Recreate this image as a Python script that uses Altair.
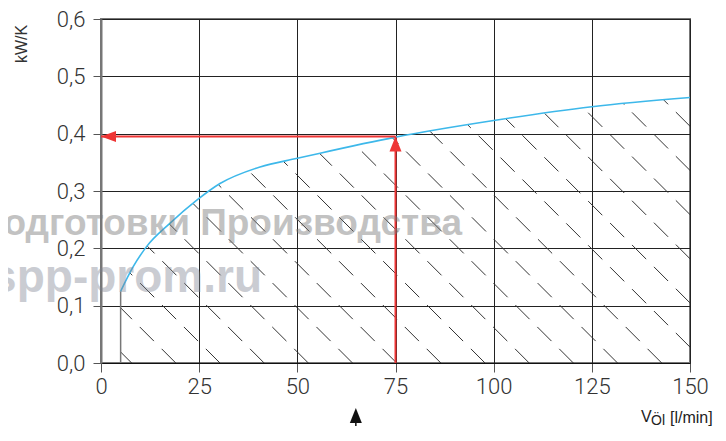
import altair as alt
import pandas as pd
import numpy as np

# ---- data ----
curve_x = [5, 8.2, 11.6, 17.6, 24.4, 30.3, 40.5, 50, 55.8, 75, 100, 125, 150]
curve_y = [0.125, 0.168, 0.203, 0.244, 0.284, 0.313, 0.342, 0.357, 0.366, 0.394, 0.423, 0.447, 0.463]

x_ticks = [0, 25, 50, 75, 100, 125, 150]
y_ticks = [0.0, 0.1, 0.2, 0.3, 0.4, 0.5, 0.6]

read_x = [75]          # flow rate read-off
read_y = [0.395]       # resulting kW/K
marker_x = [64.9]      # dashed marker below the axis

hatch_first = 7.8      # first hatch line foot (l/min)
hatch_step = 11.25     # spacing of hatch lines (l/min)

W, H = 589, 344
XMAX, YMAX = 150, 0.6
RED = "#ee3535"

# ---- hatch lines (45 deg in screen space), clipped below the curve ----
k = (H / YMAX) / (W / XMAX)
hx, hy, hx2, hy2 = [], [], [], []
xmin = curve_x[0]
c = hatch_first
while c < XMAX + k * curve_y[-1]:
    if c <= XMAX:
        lx, ly = c, 0.0
    else:
        lx, ly = XMAX, (c - XMAX) / k
    if ly < curve_y[-1]:
        xs = np.linspace(xmin, min(c, XMAX), 3000)
        g = np.interp(xs, curve_x, curve_y) - (c - xs) / k
        if g[0] >= 0:
            ux = xmin
        else:
            idx = np.argmax(g >= 0)
            ux = xs[idx] if g[idx] >= 0 else xs[-1]
        uy = (c - ux) / k
        hx.append(lx); hy.append(ly); hx2.append(ux); hy2.append(uy)
    c += hatch_step

hatch_df = pd.DataFrame({"x": hx, "y": hy, "x2": hx2, "y2": hy2})
curve_df = pd.DataFrame({"x": curve_x, "y": curve_y})
edge_df = pd.DataFrame({"x": [curve_x[0]], "y": [0.0], "y2": [curve_y[0]]})

label_font = "Roboto"

x_scale = alt.Scale(domain=[0, XMAX], nice=False, zero=False)
y_scale = alt.Scale(domain=[0, YMAX], nice=False, zero=False)

x_axis = alt.Axis(values=x_ticks, title=None, grid=True, gridColor="#222", gridWidth=1,
                  domainColor="#111", domainWidth=1, tickColor="#555", tickSize=9,
                  labelFont=label_font, labelFontWeight=300, labelFontSize=22,
                  labelColor="#333", labelPadding=4, labelFlush=False)
y_axis = alt.Axis(values=y_ticks, title=None, grid=True, gridColor="#222", gridWidth=1,
                  domainColor="#777", domainWidth=2, tickColor="#555", tickSize=8,
                  labelFont=label_font, labelFontWeight=300, labelFontSize=22,
                  labelColor="#333", labelPadding=8, labelFlush=False,
                  labelExpr="replace(format(datum.value, '.1f'), '.', ',')")

X = alt.X("x:Q", scale=x_scale, axis=x_axis)
Y = alt.Y("y:Q", scale=y_scale, axis=y_axis)

hatch = alt.Chart(hatch_df).mark_rule(color="#333", strokeWidth=1, strokeDash=[20, 11]).encode(
    x=X, y=Y, x2="x2:Q", y2="y2:Q")

edge = alt.Chart(edge_df).mark_rule(color="#777", strokeWidth=1.5).encode(
    x=X, y=Y, y2="y2:Q")

curve = alt.Chart(curve_df).mark_line(color="#3db8ea", strokeWidth=1.6, interpolate="monotone").encode(
    x=X, y=Y)

red_df = pd.DataFrame({"x": read_x, "y": read_y, "x0": [0], "y0": [0]})
red_v = alt.Chart(red_df).mark_rule(color=RED, strokeWidth=2).encode(x=X, y="y0:Q", y2="y:Q")
red_h = alt.Chart(red_df).mark_rule(color=RED, strokeWidth=2).encode(x="x0:Q", x2="x:Q", y=Y)

up_shape = "M0,0 L0.4,1 L-0.4,1 Z"
left_shape = "M0,0 L1,-0.37 L1,0.37 Z"
red_up = alt.Chart(red_df).mark_point(shape=up_shape, filled=True, color=RED, size=900,
                                       opacity=1, strokeWidth=0).encode(x=X, y=Y)
red_left = alt.Chart(red_df).mark_point(shape=left_shape, filled=True, color=RED, size=900,
                                         opacity=1, strokeWidth=0).encode(x="x0:Q", y=Y)

mk_df = pd.DataFrame({"x": marker_x, "y": [-0.0785], "ys": [-0.103], "ye": [-0.14]})
mk_head = alt.Chart(mk_df).mark_point(shape=up_shape, filled=True, color="#111", size=900,
                                       opacity=1, strokeWidth=0).encode(x=X, y=Y)
mk_stem = alt.Chart(mk_df).mark_rule(color="#111", strokeWidth=1.5, strokeDash=[4, 3]).encode(
    x=X, y="ys:Q", y2="ye:Q")

def txt(t, x, y, **kw):
    return alt.Chart(pd.DataFrame({"t": [t]})).mark_text(**kw).encode(
        x=alt.value(x), y=alt.value(y), text="t:N")

y_title = txt("kW/K", -79, 25, angle=270, align="center", baseline="middle",
              font="Liberation Sans", fontSize=16, color="#333")
xt1 = txt("V", 540, 403, align="left", baseline="alphabetic",
          font="Liberation Sans", fontSize=16, color="#222")
xt2 = txt("Öl", 550, 406, align="left", baseline="alphabetic",
          font="Liberation Sans", fontSize=14, color="#222")
xt3 = txt("[l/min]", 569, 404, align="left", baseline="alphabetic",
          font="Liberation Sans", fontSize=16, color="#222")

wm1 = txt("подготовки Производства", 361, 216, align="right", baseline="alphabetic",
          font="Liberation Sans", fontWeight="bold", fontSize=37, color="#7a7a7a", opacity=0.45)
wm2 = txt("spp-prom.ru", 161, 273, align="right", baseline="alphabetic",
          font="Liberation Sans", fontWeight="bold", fontSize=46, color="#7d8290", opacity=0.4)

chart = alt.layer(
    hatch, edge, curve, red_v, red_h, red_up, red_left, mk_stem, mk_head,
    y_title, xt1, xt2, xt3, wm1, wm2
).properties(
    width=W, height=H,
    autosize=alt.AutoSizeParams(type="none"),
    padding={"left": 93, "top": 11, "right": 28, "bottom": 64},
).configure_view(
    stroke="#777", strokeWidth=2
)

chart.save("out.html", embed_options={"renderer": "svg", "actions": False})
